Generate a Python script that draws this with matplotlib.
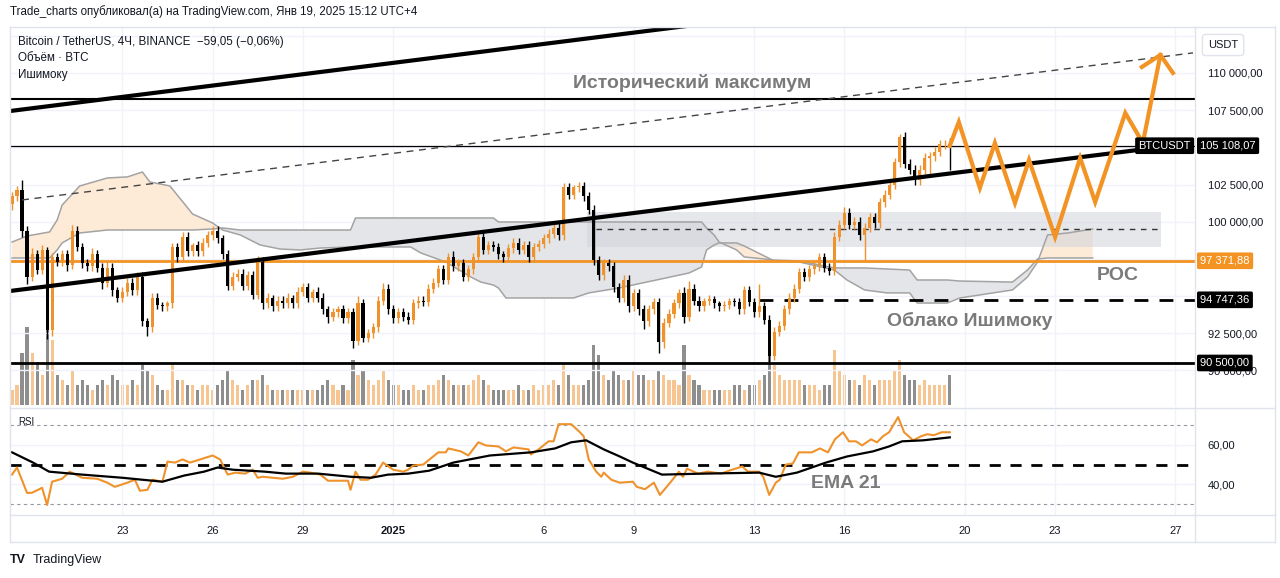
import numpy as np
import pandas as pd
import matplotlib
matplotlib.use("Agg")
import matplotlib.pyplot as plt
from matplotlib.lines import Line2D
from matplotlib.patches import Rectangle

plt.rcParams['font.family'] = ['Liberation Sans', 'DejaVu Sans']

# ---- data: BTCUSDT 4H candles, first bar 2024-12-19 08:00 (prices in thousands USDT)
start = pd.Timestamp("2024-12-19 08:00")
first_open = 101.2
closes = [
    101.7, 102.1, 99.4, 96.3, 97.8, 96.75, 98.1, 92.7, 97.6, 97.3,
    97.8, 97.1, 99.4, 98.3, 97.2, 97.0, 97.8, 96.9, 95.9, 96.9,
    95.4, 94.9, 95.3, 95.9, 95.4, 96.3, 93.3, 92.9, 94.9, 94.4,
    94.3, 94.5, 98.3, 97.6, 99.0, 98.0, 98.4, 98.0, 98.6, 99.1,
    99.4, 98.9, 97.8, 95.7, 96.3, 96.5, 95.7, 96.4, 95.1, 97.3,
    94.5, 94.9, 94.3, 94.7, 94.5, 94.9, 94.5, 95.3, 95.6, 94.9,
    95.3, 94.9, 94.1, 93.6, 93.9, 94.1, 93.5, 93.9, 92.0, 94.5,
    92.2, 92.5, 92.9, 94.7, 95.5, 94.1, 93.5, 93.9, 93.6, 93.4,
    94.5, 94.7, 94.6, 95.5, 95.9, 96.8, 96.1, 97.6, 97.0, 97.2,
    96.3, 96.8, 97.6, 99.0, 98.1, 98.4, 98.3, 97.8, 97.6, 98.2,
    98.6, 98.1, 98.4, 97.6, 98.3, 98.5, 98.9, 99.2, 99.6, 99.1,
    102.3, 101.8, 102.3, 102.4, 101.7, 100.8, 97.4, 96.4, 97.2, 97.0,
    95.6, 94.9, 96.1, 94.3, 95.2, 94.1, 93.3, 94.1, 94.6, 91.9,
    93.2, 93.8, 94.5, 95.2, 93.6, 95.5, 94.7, 94.3, 94.7, 94.8,
    94.5, 94.3, 94.4, 94.7, 94.6, 94.1, 95.4, 94.6, 93.9, 94.3,
    93.4, 91.0, 92.6, 93.0, 94.1, 94.9, 95.5, 96.6, 96.3, 96.8,
    97.0, 97.6, 96.9, 96.7, 99.0, 99.8, 100.6, 99.8, 100.0, 99.1,
    99.6, 100.3, 99.9, 101.3, 101.8, 102.5, 104.0, 105.7, 103.9, 103.5,
    102.8, 103.5, 104.3, 104.4, 104.7, 105.2, 105.2, 105.1,
]
wick_up = [
    .3, .3, .7, .3, .4, .3, .3, .2, .3, .3,
    .3, .3, .4, .3, .3, .3, .4, .3, .3, .4,
    .3, .2, .3, .3, .3, .3, .3, .2, .3, .3,
    .2, .2, .3, .3, .3, .3, .2, .3, .3, .3,
    .3, .3, .2, .3, .3, .3, .3, .3, .3, .4,
    .3, .3, .2, .3, .3, .3, .2, .3, .3, .3,
    .2, .3, .3, .2, .3, .2, .3, .3, .3, .5,
    .3, .3, .3, .3, .4, .3, .3, .3, .3, .3,
    .3, .3, .3, .3, .3, .3, .3, .3, .4, .3,
    .3, .3, .3, .4, .4, .3, .3, .3, .2, .3,
    .3, .3, .3, .3, .3, .3, .3, .3, .3, .3,
    .3, .3, .2, .3, .3, .3, .3, .3, .3, .3,
    .3, .3, .3, .3, .3, .3, .3, .3, .3, .3,
    .3, .3, .3, .3, .4, .5, .3, .3, .2, .3,
    .2, .2, .3, .2, .2, .3, .3, .3, .3, 1.5,
    .3, .3, .3, .3, .3, .3, .3, .3, .3, .3,
    .3, .3, .3, .3, .3, .3, .4, .3, .3, .3,
    .3, .3, .3, .3, .3, .3, .3, .2, .3, .3,
    .3, .3, .3, .3, .3, .3, .3, .4,
]
wick_dn = [
    .4, .3, .4, .5, .3, .3, .3, .6, .4, .3,
    .3, .4, .3, .3, .3, .3, .3, .3, .4, .3,
    .4, .3, .3, .3, .3, .3, .3, .6, .3, .3,
    .3, .3, .3, .3, .3, .3, .3, .3, .3, .3,
    .3, .3, .3, .3, .3, .3, .3, .3, .3, .3,
    .4, .3, .3, .3, .3, .3, .3, .3, .3, .3,
    .3, .3, .3, .4, .3, .3, .3, .3, .5, .3,
    .3, .3, .3, .3, .3, .3, .3, .3, .3, .3,
    .3, .3, .3, .3, .3, .3, .3, .3, .3, .3,
    .3, .3, .3, .3, .3, .3, .3, .3, .3, .3,
    .3, .3, .3, .3, .3, .3, .3, .3, .3, .3,
    .3, .3, .3, .3, .3, .3, .3, .3, .3, .3,
    .3, .3, .3, .4, .3, .4, .5, .3, .3, .7,
    .4, .3, .3, .3, .4, .3, .3, .3, .3, .3,
    .3, .3, .3, .3, .3, .3, .3, .3, .3, .3,
    .3, .6, .3, .3, .3, .3, .3, .3, .3, .3,
    .3, .3, .3, .3, .3, .3, .3, .3, .3, .3,
    1.7, .3, .3, .3, .3, .3, .3, .3, .3, .3,
    .3, .3, .3, 1.2, .3, .3, .3, 1.6,
]
# volume, thousand BTC
volume = [
    3, 4, 10.4, 15.6, 10.4, 8.6, 6, 15, 13, 6,
    5, 4, 7, 4, 5, 4, 3, 4, 5, 4,
    6, 5, 4, 4, 5, 4, 8, 7, 6, 4,
    3, 3, 8, 5, 5, 4, 4, 3, 4, 4,
    3, 4, 5, 7, 5, 4, 3, 4, 5, 5,
    6, 4, 3, 3, 3, 3, 3, 3, 3, 3,
    3, 3, 4, 5, 4, 3, 4, 3, 9, 6,
    7, 5, 4, 5, 7, 5, 4, 4, 3, 3,
    4, 3, 3, 4, 4, 5, 6, 5, 4, 4,
    4, 4, 5, 6, 5, 4, 3, 3, 3, 3,
    3, 4, 3, 3, 4, 3, 4, 4, 5, 4,
    8, 6, 4, 4, 4, 5, 12, 10, 6, 5,
    7, 6, 5, 5, 7, 6, 6, 5, 5, 7,
    6, 5, 5, 4, 12, 6, 5, 4, 3, 3,
    3, 3, 3, 3, 4, 4, 3, 4, 4, 5,
    6, 10, 8, 6, 5, 5, 5, 5, 4, 4,
    4, 3, 4, 4, 11, 7, 6, 5, 5, 4,
    6, 5, 4, 5, 5, 5, 7, 9, 6, 5,
    5, 4, 5, 4, 4, 4, 4, 6,
]

# Ichimoku cloud (bar index, leading spans in thousands)
cloud_bar = [0, 3, 7.5, 9, 10, 13.5, 19, 23, 26, 27.5, 31.5, 36, 40, 42, 45.5, 49.5, 53.5, 57.5,
             61.5, 67.5, 68.5, 79.5, 81.5, 86.5, 91.5, 93.5, 96, 97, 98.5, 112, 115, 121, 128.5,
             135, 137.5, 138.5, 140, 141, 144.5, 146, 152, 157, 164, 166.5, 170, 174.5, 179,
             180.5, 186.5, 189, 199.5, 202.5, 204.5, 206.5, 210.5, 215.5]
span_a = [98.63, 99.04, 99.31, 100.11, 101.12, 102.40, 102.94, 103.01, 103.34, 102.67, 102.40,
          100.52, 99.91, 99.44, 99.11, 98.43, 98.16, 98.10, 98.23, 98.30, 98.30, 98.30, 97.90,
          97.29, 96.28, 95.94, 95.74, 95.54, 94.87, 94.87, 95.21, 95.54, 96.08, 96.55, 96.95,
          98.10, 98.43, 98.57, 98.57, 98.37, 97.36, 97.29, 96.75, 96.08, 95.41, 95.21, 95.21,
          94.53, 94.53, 94.87, 95.41, 96.28, 97.29, 99.11, 99.24, 99.51]
span_b = [97.56, 97.56, 97.56, 98.10, 98.57, 99.24, 99.44, 99.44, 99.44, 99.44, 99.44, 99.44,
          99.51, 99.58, 99.44, 99.44, 99.44, 99.44, 99.44, 99.44, 100.25, 100.25, 100.25, 100.25,
          100.25, 100.25, 100.25, 99.98, 99.98, 99.98, 99.98, 99.98, 99.98, 99.98, 99.98, 99.58,
          99.11, 98.63, 98.10, 97.63, 97.42, 97.36, 96.89, 96.89, 96.89, 96.82, 96.75, 96.08,
          96.08, 96.01, 95.94, 96.75, 97.49, 97.56, 97.56, 97.56]

# levels (thousands)
ath_level = 108.25
last_price = 105.10807
poc_level = 97.37188
ichi_level = 94.74736
support_level = 90.5
zone_top, zone_bottom, zone_mid = 100.65, 98.30, 99.5
zone_bar = [114.7, 229.1]

# trend lines (bar, price)
trend_low = ([-0.4, 224.5], [95.34, 104.82])
trend_high = ([-0.4, 140.0], [107.44, 113.39])
channel = ([2, 235.5], [101.46, 111.35])

# projected path
proj_bar = [187, 188.8, 193, 196, 200, 202.8, 208, 213, 216, 222, 225.5, 229]
proj_val = [105.1, 106.7, 102.27, 105.29, 101.26, 104.15, 98.97, 104.28, 101.32, 107.31, 105.29, 111.21]
arrow_bar = [225.3, 229, 231.5]
arrow_val = [110.40, 111.21, 110.00]

# RSI pane
rsi_bar = [0, 1, 3, 4, 6, 7, 8, 10, 11.5, 14, 17, 19, 20.5, 23, 24.5, 25.5, 27, 28, 30, 31,
           32.5, 34, 35.5, 37.5, 40, 41.5, 43, 44.5, 46.5, 48, 49, 50, 54, 56, 58, 59.5, 61.5, 63,
           67, 67.5, 68.5, 69.5, 71, 72.5, 74, 76, 78, 79, 80, 82, 85, 86.5, 87, 89.5, 91, 93,
           94.5, 97, 98.5, 100, 103, 103.5, 105, 107, 108, 109, 111.5, 113, 114, 115, 116.5,
           117.5, 118, 119.5, 121.2, 123.8, 124.6, 126.2, 128, 129.2, 131.4, 133, 133.8, 134.6,
           136.8, 138.8, 141.4, 143, 145.6, 146.8, 149, 149.8, 151, 152.3, 153.1, 154.3, 155.7,
           156.9, 159.5, 161.1, 162.7, 164.1, 165.7, 166.9, 168.3, 169.5, 171.3, 172.5, 173.7,
           174.9, 176.7, 177.9, 179.7, 181.3, 182.5, 183.8, 185.4, 187]
rsi_val = [44.9, 48.5, 35.6, 35.7, 38.2, 29.5, 41.3, 42.8, 46.4, 43.3, 42.8, 40.8, 38.7, 40.8,
           42.3, 36.7, 37.2, 42.3, 41.3, 51.5, 51.0, 52.6, 51.0, 52.6, 54.6, 52.6, 44.9, 45.9,
           45.4, 47.4, 43.3, 43.8, 42.8, 43.8, 46.4, 45.9, 44.9, 41.8, 41.8, 37.2, 46.4, 42.3,
           42.3, 44.9, 51.0, 47.4, 46.4, 47.4, 49.5, 50.0, 56.2, 56.2, 58.2, 56.7, 54.6, 61.3,
           59.7, 59.2, 56.7, 58.7, 57.7, 55.1, 57.7, 61.8, 61.8, 70.5, 70.5, 67.0, 64.4, 52.6,
           46.4, 43.8, 45.9, 42.3, 40.8, 41.3, 38.7, 37.5, 40.8, 34.6, 41.3, 46.4, 43.8, 47.9,
           45.4, 46.4, 45.4, 46.9, 49.0, 46.4, 46.4, 43.8, 34.6, 40.8, 42.3, 50.0, 50.5, 56.2,
           56.2, 58.2, 56.2, 62.8, 66.4, 61.8, 61.8, 59.7, 62.8, 61.3, 64.4, 66.4, 74.1, 66.4,
           62.3, 64.4, 65.4, 64.9, 66.4, 66.4]
ema_bar = [0, 4.2, 7.4, 14, 22, 30, 34.3, 38.3, 41, 44, 50.4, 54.6, 61, 67.6, 71.6, 75, 79, 83.2,
           88, 95.3, 103.5, 108.3, 111.5, 114.5, 118, 121.2, 123.8, 129.6, 138, 149, 152.3, 156.5,
           162.3, 166.5, 171.7, 174.9, 177.5, 181.7, 187]
ema_val = [56.2, 51.0, 46.4, 44.9, 43.3, 41.3, 44.4, 46.4, 48.5, 47.4, 46.4, 45.4, 45.4, 43.8,
           43.3, 44.9, 45.4, 46.9, 51.0, 54.6, 56.2, 58.2, 61.3, 62.3, 57.7, 54.1, 51.0, 44.9,
           45.4, 45.9, 43.8, 45.9, 51.0, 54.1, 56.7, 59.2, 61.8, 62.3, 63.8]

price_ticks = [90.0, 92.5, 100.0, 102.5, 107.5, 110.0]
grid_prices = [90.0, 92.5, 95.0, 97.5, 100.0, 102.5, 105.0, 107.5, 110.0, 112.5]
tick_dates = ["2024-12-23", "2024-12-26", "2024-12-29", "2025-01-01", "2025-01-06", "2025-01-09",
              "2025-01-13", "2025-01-16", "2025-01-20", "2025-01-23", "2025-01-27"]
tick_labels = ["23", "26", "29", "2025", "6", "9", "13", "16", "20", "23", "27"]

# ---- colours
ORANGE = "#f29324"
CANDLE_UP = "#f0922b"
GREY_TXT = "#7a7a7a"
GRID = "#f0f3fa"
FRAME = "#e0e3eb"


def fmt(v):
    return f"{v * 1000:,.2f}".replace(",", " ").replace(".", ",")


def fx(px):
    return px / 1280


def fy(py):
    return 1 - py / 578


fig = plt.figure(figsize=(12.8, 5.78), dpi=100)
fig.patch.set_facecolor("white")

ax = fig.add_axes([fx(10), fy(407), fx(1195) - fx(10), fy(27) - fy(407)])
ax_r = fig.add_axes([fx(10), fy(515), fx(1195) - fx(10), fy(409) - fy(515)], sharex=ax)

ax_v = ax.twinx()
ax_v.set_zorder(ax.get_zorder() - 1)
ax.patch.set_visible(False)
ax_v.patch.set_visible(False)

xmin, xmax = -0.4, 235.9
ax.set_xlim(xmin, xmax)
ax.set_ylim(87.54, 113.09)
ax_r.set_ylim(24.4, 78.2)

tick_pos = ((pd.to_datetime(tick_dates) - start) / pd.Timedelta(hours=4)).values

# grid
for p in tick_pos:
    ax.axvline(p, color=GRID, lw=1, zorder=0)
    ax_r.axvline(p, color=GRID, lw=1, zorder=0)
for g in grid_prices:
    ax.axhline(g, color=GRID, lw=1, zorder=0)
for g in [40, 60]:
    ax_r.axhline(g, color=GRID, lw=1, zorder=0)

# candles
c = np.array(closes)
o = np.concatenate([[first_open], c[:-1]])
hi = np.maximum(o, c) + np.array(wick_up)
lo = np.minimum(o, c) - np.array(wick_dn)
idx = np.arange(len(c))
up = c >= o
ccol = np.where(up, CANDLE_UP, "#000000")
body = np.maximum(np.abs(c - o), 0.05)
ax.vlines(idx, lo, hi, colors=ccol, lw=1, zorder=5)
ax.bar(idx, body, bottom=np.minimum(o, c), width=0.62, color=ccol, zorder=5, linewidth=0)

# volume
vcol = np.where(up, "#f7c591", "#8e8e8e")
ax_v.bar(idx, volume, width=0.62, color=vcol, linewidth=0)
ax_v.set_ylim(-0.4, 75.6)
ax_v.axis("off")

# ichimoku cloud
cb = np.array(cloud_bar)
sa = np.array(span_a)
sb = np.array(span_b)
ax.fill_between(cb, sa, sb, where=sa >= sb, interpolate=True, color="#fdebd8", lw=0, zorder=1)
ax.fill_between(cb, sa, sb, where=sa < sb, interpolate=True, color="#e4e5e9", lw=0, zorder=1)
ax.plot(cb, sa, color="#a3a3a3", lw=1.1, zorder=2)
ax.plot(cb, sb, color="#a3a3a3", lw=1.1, zorder=2)

# zone box
ax.add_patch(Rectangle((zone_bar[0], zone_bottom), zone_bar[1] - zone_bar[0], zone_top - zone_bottom,
                       facecolor="#d1d4dc", alpha=0.55, lw=0, zorder=1.5))
ax.hlines(zone_mid, 116.5, zone_bar[1], colors="#333333", lw=1, linestyles=(0, (4, 4)), zorder=3)

# horizontal levels
ax.axhline(ath_level, color="black", lw=1.5, zorder=3)
ax.axhline(last_price, color="black", lw=0.9, zorder=3)
ax.axhline(support_level, color="black", lw=2, zorder=3)
ax.axhline(poc_level, color=ORANGE, lw=2, zorder=4)
ax.hlines(ichi_level, 149, xmax, colors="black", lw=2, linestyles=(0, (5, 4)), zorder=3)

# trend lines
ax.plot(*trend_low, color="black", lw=3, zorder=6, solid_capstyle="butt")
ax.plot(*trend_high, color="black", lw=3, zorder=6, solid_capstyle="butt")
ax.plot(*channel, color="#444444", lw=1, ls=(0, (5, 4)), zorder=6)

# projection
ax.plot(proj_bar, proj_val, color=ORANGE, lw=3, zorder=7, solid_joinstyle="miter")
ax.plot(arrow_bar, arrow_val, color=ORANGE, lw=3, zorder=7, solid_joinstyle="miter")

# price axis
ax.yaxis.tick_right()
ax.set_yticks(price_ticks)
ax.set_yticklabels([fmt(v) for v in price_ticks])
ax.tick_params(axis="y", length=0, pad=9, labelsize=8, labelcolor="#131722")
ax.tick_params(axis="x", length=0, labelbottom=False)
for s in ax.spines.values():
    s.set_visible(False)

bx = 1.0045
lab = dict(fontsize=8, color="white", va="center", ha="left", zorder=20, clip_on=False,
           transform=ax.get_yaxis_transform())
box = lambda colr: dict(boxstyle="round,pad=0.3,rounding_size=0.15", fc=colr, ec="none")
ax.text(bx, last_price, fmt(last_price), bbox=box("black"), **lab)
ax.text(bx, poc_level, fmt(poc_level), bbox=box(ORANGE), **lab)
ax.text(bx, ichi_level, fmt(ichi_level), bbox=box("black"), **lab)
ax.text(bx, support_level, fmt(support_level), bbox=box("black"), **lab)
ax.text(0.9965, last_price, "BTCUSDT", fontsize=8, color="white", va="center", ha="right",
        zorder=20, transform=ax.get_yaxis_transform(), bbox=box("black"))

# RSI pane
ax_r.plot(rsi_bar, rsi_val, color=CANDLE_UP, lw=1.5, zorder=4)
ax_r.plot(ema_bar, ema_val, color="black", lw=1.6, zorder=5)
ax_r.axhline(50, color="black", lw=2, ls=(0, (4, 3.5)), zorder=3)
ax_r.axhline(70, color="#9598a1", lw=0.8, ls=(0, (3, 3)), zorder=3)
ax_r.axhline(30, color="#9598a1", lw=0.8, ls=(0, (3, 3)), zorder=3)
ax_r.yaxis.tick_right()
ax_r.set_yticks([40, 60])
ax_r.set_yticklabels(["40,00", "60,00"])
ax_r.tick_params(axis="y", length=0, pad=9, labelsize=8, labelcolor="#131722")
ax_r.set_xticks(tick_pos)
ax_r.set_xticklabels(tick_labels)
ax_r.tick_params(axis="x", length=0, pad=8, labelsize=8, labelcolor="#131722")
for t in ax_r.get_xticklabels():
    if t.get_text() == "2025":
        t.set_fontweight("bold")
for s in ax_r.spines.values():
    s.set_visible(False)
ax_r.patch.set_visible(False)

# frame lines
def hline(py, x0, x1):
    fig.add_artist(Line2D([fx(x0), fx(x1)], [fy(py), fy(py)], color=FRAME, lw=1))


def vline(px, y0, y1):
    fig.add_artist(Line2D([fx(px), fx(px)], [fy(y0), fy(y1)], color=FRAME, lw=1))


hline(27, 10, 1275)
hline(408, 10, 1275)
hline(515, 10, 1275)
hline(542, 10, 1275)
vline(10, 27, 542)
vline(1195, 27, 542)
vline(1275, 27, 542)

# texts
fig.text(fx(10), fy(12), "Trade_charts опубликовал(а) на TradingView.com, Янв 19, 2025 15:12 UTC+4",
         fontsize=8.3, color="#131722", va="center")
fig.text(fx(18), fy(42), "Bitcoin / TetherUS, 4Ч, BINANCE  −59,05 (−0,06%)", fontsize=8.4,
         color="#131722", va="center")
fig.text(fx(18), fy(58), "Объём · BTC", fontsize=8.4, color="#131722", va="center")
fig.text(fx(18), fy(75), "Ишимоку", fontsize=8.4, color="#131722", va="center")
fig.text(fx(18), fy(422), "RSI", fontsize=7, color="#131722", va="center")
fig.text(fx(1208), fy(45), "USDT", fontsize=8, color="#131722", va="center",
         bbox=dict(boxstyle="round,pad=0.5,rounding_size=0.3", fc="white", ec=FRAME))

ann = dict(fontsize=14, color=GREY_TXT, fontweight="bold", ha="center", va="center")
fig.text(fx(692), fy(83), "Исторический максимум", **ann)
fig.text(fx(1118), fy(276), "POC", **ann)
fig.text(fx(970), fy(321), "Облако Ишимоку", **ann)
fig.text(fx(846), fy(483), "EMA 21", **ann)

fig.text(fx(10), fy(560), "TV", fontsize=9, fontweight="heavy", color="#131722", va="center")
fig.text(fx(33), fy(560), "TradingView", fontsize=9, color="#131722", va="center")

fig.savefig("out.png", dpi=100, facecolor="white")
